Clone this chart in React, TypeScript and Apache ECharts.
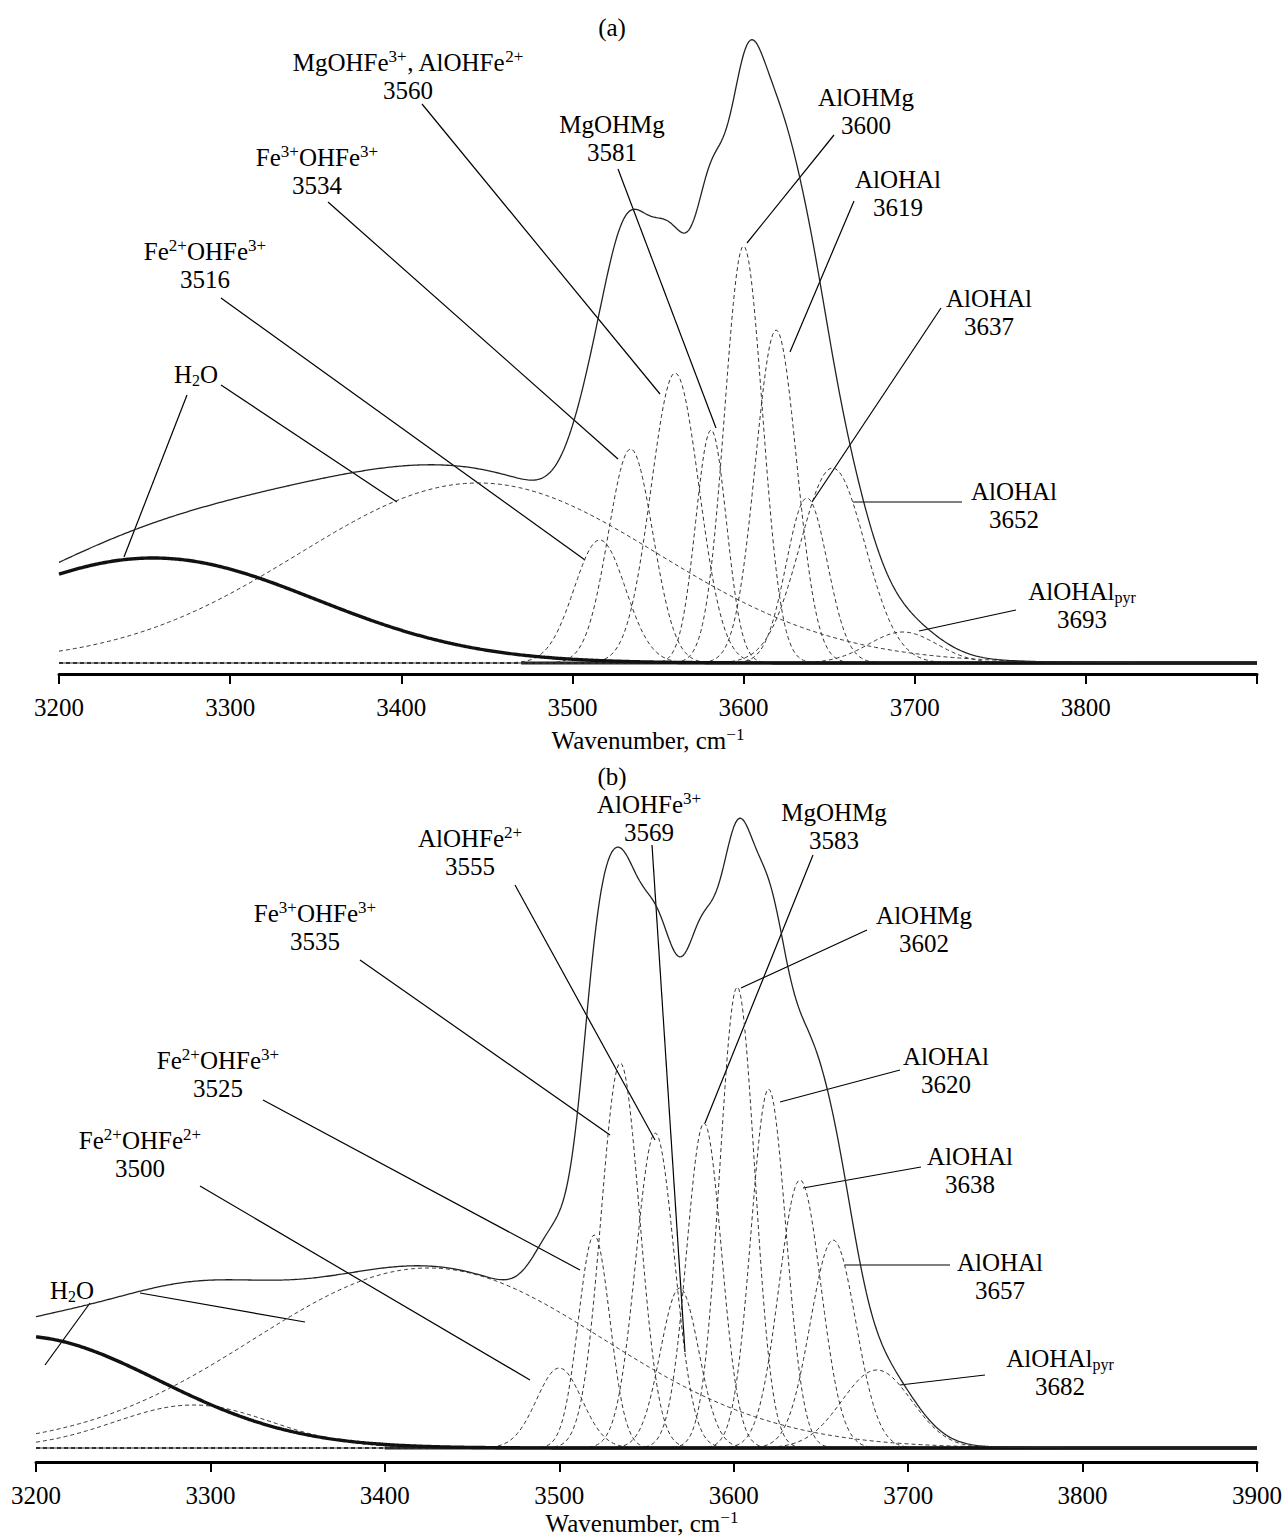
import React, { useEffect, useRef } from 'react';
import * as echarts from 'echarts';

// ---------- data ----------
const WN_MIN = 3200;
const WN_MAX = 3900;
const WN_STEP = 1;
const xTickValues = [3200, 3300, 3400, 3500, 3600, 3700, 3800, 3900];

// Panel (a): fitted band components (center cm-1, height a.u., gaussian sigma cm-1)
const bandCentersA = [3255, 3445, 3516, 3534, 3560, 3581, 3600, 3619, 3637, 3652, 3693];
const bandHeightsA = [1.05, 1.8, 1.23, 2.14, 2.9, 2.33, 4.17, 3.33, 1.65, 1.95, 0.31];
const bandSigmasA = [95, 105, 15, 13, 14, 9, 11, 12, 12, 19, 20];

// Panel (b)
const bandCentersB = [3190, 3290, 3425, 3500, 3520, 3535, 3555, 3569, 3583, 3602, 3620, 3638, 3657, 3682];
const bandHeightsB = [1.12, 0.43, 1.8, 0.8, 2.13, 3.85, 3.15, 1.6, 3.25, 4.61, 3.59, 2.68, 2.08, 0.78];
const bandSigmasB = [80, 45, 100, 13, 9, 11, 11, 11, 10, 10, 10, 12, 13, 20];

// ---------- layout ----------
const W = 1286;
const H = 1537;
const FONT = 'Liberation Serif';

const RICH = {
  sup: { fontSize: 17, fontFamily: FONT, lineHeight: 18, verticalAlign: 'top', fill: '#000' },
  sub: { fontSize: 16, fontFamily: FONT, lineHeight: 10, verticalAlign: 'bottom', fill: '#000' },
};

const labelsA = [
  { t: '(a)', x: 612, y: 27 },
  { t: 'MgOHFe{sup|3+}, AlOHFe{sup|2+}\n3560', x: 408, y: 76 },
  { t: 'MgOHMg\n3581', x: 612, y: 138 },
  { t: 'Fe{sup|3+}OHFe{sup|3+}\n3534', x: 317, y: 171 },
  { t: 'Fe{sup|2+}OHFe{sup|3+}\n3516', x: 205, y: 265 },
  { t: 'H{sub|2}O', x: 196, y: 374 },
  { t: 'AlOHMg\n3600', x: 866, y: 111 },
  { t: 'AlOHAl\n3619', x: 898, y: 193 },
  { t: 'AlOHAl\n3637', x: 989, y: 312 },
  { t: 'AlOHAl\n3652', x: 1014, y: 505 },
  { t: 'AlOHAl{sub|pyr}\n3693', x: 1082, y: 605 },
  { t: 'Wavenumber, cm{sup|\u22121}', x: 648, y: 740 },
];
const leadersA = [
  [422, 104, 660, 394],
  [618, 169, 716, 428],
  [328, 202, 618, 459],
  [221, 298, 585, 560],
  [187, 395, 124, 557],
  [221, 385, 397, 502],
  [834, 135, 747, 243],
  [854, 201, 790, 352],
  [941, 308, 812, 502],
  [853, 502, 962, 502],
  [1016, 610, 919, 631],
];

const labelsB = [
  { t: '(b)', x: 612, y: 776 },
  { t: 'AlOHFe{sup|3+}\n3569', x: 649, y: 818 },
  { t: 'AlOHFe{sup|2+}\n3555', x: 470, y: 852 },
  { t: 'MgOHMg\n3583', x: 834, y: 826 },
  { t: 'Fe{sup|3+}OHFe{sup|3+}\n3535', x: 315, y: 927 },
  { t: 'AlOHMg\n3602', x: 924, y: 929 },
  { t: 'AlOHAl\n3620', x: 946, y: 1070 },
  { t: 'Fe{sup|2+}OHFe{sup|3+}\n3525', x: 218, y: 1074 },
  { t: 'AlOHAl\n3638', x: 970, y: 1170 },
  { t: 'Fe{sup|2+}OHFe{sup|2+}\n3500', x: 140, y: 1154 },
  { t: 'AlOHAl\n3657', x: 1000, y: 1276 },
  { t: 'H{sub|2}O', x: 72, y: 1290 },
  { t: 'AlOHAl{sub|pyr}\n3682', x: 1060, y: 1372 },
  { t: 'Wavenumber, cm{sup|\u22121}', x: 642, y: 1523 },
];
const leadersB = [
  [652, 845, 685, 1352],
  [515, 885, 655, 1140],
  [813, 855, 705, 1123],
  [360, 960, 610, 1135],
  [867, 930, 741, 988],
  [900, 1070, 780, 1102],
  [263, 1100, 580, 1270],
  [921, 1167, 803, 1188],
  [200, 1186, 530, 1380],
  [950, 1265, 845, 1265],
  [90, 1303, 45, 1365],
  [140, 1293, 305, 1322],
  [985, 1375, 900, 1385],
];

// ---------- helpers ----------
const xs: number[] = [];
for (let x = WN_MIN; x <= WN_MAX; x += WN_STEP) xs.push(x);

function band(c: number, h: number, s: number) {
  return xs.map((x) => h * Math.exp(-((x - c) * (x - c)) / (2 * s * s)));
}

function buildPanel(
  centers: number[],
  heights: number[],
  sigmas: number[],
  idx: number,
  thickIdx: number[],
  baseStart: number
) {
  const series: any[] = [];
  const comps = centers.map((c, i) => band(c, heights[i], sigmas[i]));
  const sum = xs.map((_, k) => comps.reduce((a, comp) => a + comp[k], 0));
  series.push({
    type: 'line', xAxisIndex: idx, yAxisIndex: idx, showSymbol: false, silent: true,
    data: [[WN_MIN, 0], [WN_MAX, 0]],
    lineStyle: { color: '#777', width: 1.5 },
  });
  series.push({
    type: 'line', xAxisIndex: idx, yAxisIndex: idx, showSymbol: false, silent: true,
    data: [[baseStart, 0], [WN_MAX, 0]],
    lineStyle: { color: '#222', width: 3 },
  });
  comps.forEach((comp, i) => {
    const thick = thickIdx.includes(i);
    series.push({
      type: 'line', xAxisIndex: idx, yAxisIndex: idx, showSymbol: false, silent: true,
      data: xs.map((x, k) => [x, comp[k]]),
      lineStyle: thick
        ? { color: '#111', width: 3.4 }
        : { color: '#333', width: 1, type: [4, 3] },
      z: thick ? 4 : 3,
    });
  });
  series.push({
    type: 'line', xAxisIndex: idx, yAxisIndex: idx, showSymbol: false, silent: true,
    data: xs.map((x, k) => [x, sum[k]]),
    lineStyle: { color: '#222', width: 1.3 },
    z: 5,
  });
  return series;
}

function xAxisFor(gi: number, hideLast: boolean) {
  return {
    type: 'value',
    gridIndex: gi,
    min: WN_MIN,
    max: WN_MAX,
    interval: 100,
    axisLine: { show: true, onZero: false, lineStyle: { color: '#000', width: 3 } },
    axisTick: { show: true, length: 10, lineStyle: { color: '#000', width: 2 } },
    axisLabel: {
      color: '#000',
      fontSize: 25,
      fontFamily: FONT,
      margin: 21,
      formatter: (v: number) => (hideLast && v === xTickValues[xTickValues.length - 1] ? '' : String(v)),
    },
    splitLine: { show: false },
  };
}

function textEl(l: { t: string; x: number; y: number }) {
  return {
    type: 'text',
    x: l.x,
    y: l.y,
    silent: true,
    style: {
      text: l.t,
      fontSize: 25,
      fontFamily: FONT,
      fill: '#000',
      align: 'center',
      verticalAlign: 'middle',
      lineHeight: 28,
      rich: RICH,
    },
  };
}

function lineEl(s: number[]) {
  return {
    type: 'line',
    silent: true,
    shape: { x1: s[0], y1: s[1], x2: s[2], y2: s[3] },
    style: { stroke: '#000', lineWidth: 1.2 },
  };
}

export default function App() {
  const ref = useRef<HTMLDivElement>(null);
  useEffect(() => {
    if (!ref.current) return;
    const chart = echarts.init(ref.current, undefined, { renderer: 'svg' });
    const option: any = {
      animation: false,
      backgroundColor: '#fff',
      grid: [
        { left: 59, right: W - 1257, top: 30, height: 644 },
        { left: 36, right: W - 1257, top: 790, height: 672 },
      ],
      xAxis: [xAxisFor(0, true), xAxisFor(1, false)],
      yAxis: [
        { type: 'value', gridIndex: 0, min: -0.11, max: 6.33, show: false },
        { type: 'value', gridIndex: 1, min: -0.14, max: 6.58, show: false },
      ],
      series: [
        ...buildPanel(bandCentersA, bandHeightsA, bandSigmasA, 0, [0], 3470),
        ...buildPanel(bandCentersB, bandHeightsB, bandSigmasB, 1, [0], 3400),
      ],
      graphic: [
        ...leadersA.map(lineEl),
        ...leadersB.map(lineEl),
        ...labelsA.map(textEl),
        ...labelsB.map(textEl),
      ],
    };
    chart.setOption(option);
    return () => chart.dispose();
  }, []);
  return (
    <div
      ref={ref}
      style={{ position: 'absolute', left: 0, top: 0, width: W, height: H, background: '#fff' }}
    />
  );
}
